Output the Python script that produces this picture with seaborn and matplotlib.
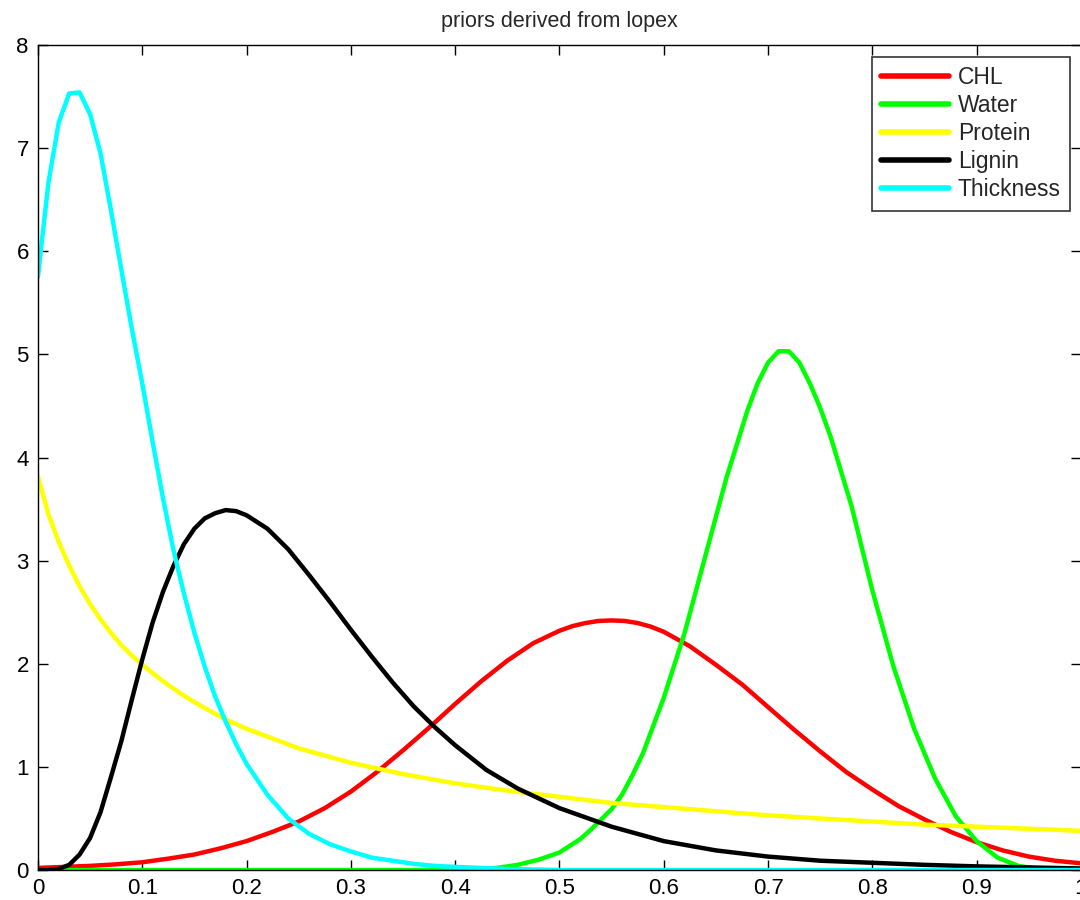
import numpy as np
import pandas as pd
import matplotlib
matplotlib.use("Agg")
import matplotlib.pyplot as plt
import seaborn as sns

# ---- data ----
chl_x = [0.0, 0.025, 0.05, 0.075, 0.1, 0.125, 0.15, 0.175, 0.2, 0.225, 0.25, 0.275, 0.3, 0.325,
         0.35, 0.375, 0.4, 0.425, 0.45, 0.475, 0.5, 0.5125, 0.525, 0.5375, 0.55, 0.5625, 0.575,
         0.5875, 0.6, 0.625, 0.65, 0.675, 0.7, 0.725, 0.75, 0.775, 0.8, 0.825, 0.85, 0.875,
         0.9, 0.925, 0.95, 0.975, 1.0]
chl_y = [0.02, 0.03, 0.04, 0.055, 0.075, 0.11, 0.15, 0.21, 0.28, 0.37, 0.47, 0.6, 0.76, 0.95,
         1.16, 1.38, 1.61, 1.83, 2.03, 2.2, 2.32, 2.365, 2.395, 2.415, 2.42, 2.415, 2.395,
         2.36, 2.31, 2.17, 1.99, 1.8, 1.58, 1.36, 1.15, 0.95, 0.78, 0.62, 0.49, 0.37,
         0.27, 0.19, 0.13, 0.09, 0.065]

water_x = [0.0, 0.1, 0.2, 0.3, 0.4, 0.42, 0.44, 0.46, 0.48, 0.5, 0.52, 0.53, 0.54, 0.55, 0.56,
           0.57, 0.58, 0.59, 0.6, 0.62, 0.64, 0.66, 0.68, 0.69, 0.7, 0.71, 0.72, 0.73, 0.74,
           0.75, 0.76, 0.78, 0.8, 0.82, 0.84, 0.86, 0.88, 0.9, 0.92, 0.94, 0.96, 0.98, 1.0]
water_y = [0.0, 0.0, 0.0, 0.0, 0.0, 0.005, 0.02, 0.05, 0.1, 0.17, 0.3, 0.39, 0.49, 0.59, 0.73,
           0.92, 1.13, 1.4, 1.67, 2.3, 3.05, 3.8, 4.45, 4.72, 4.92, 5.03, 5.03, 4.92, 4.72,
           4.48, 4.2, 3.53, 2.71, 1.98, 1.37, 0.89, 0.52, 0.28, 0.12, 0.04, 0.01, 0.0, 0.0]

protein_x = [0.0, 0.01, 0.02, 0.03, 0.04, 0.05, 0.06, 0.07, 0.08, 0.09, 0.1, 0.12, 0.14, 0.16,
             0.18, 0.2, 0.25, 0.3, 0.35, 0.4, 0.45, 0.5, 0.55, 0.6, 0.65, 0.7, 0.75, 0.8,
             0.85, 0.9, 0.95, 1.0]
protein_y = [3.82, 3.45, 3.18, 2.95, 2.75, 2.58, 2.43, 2.3, 2.18, 2.08, 1.99, 1.83, 1.69, 1.57,
             1.46, 1.37, 1.18, 1.04, 0.93, 0.84, 0.77, 0.71, 0.65, 0.61, 0.57, 0.53, 0.5, 0.47,
             0.44, 0.42, 0.4, 0.38]

lignin_x = [0.0, 0.01, 0.02, 0.03, 0.04, 0.05, 0.06, 0.07, 0.08, 0.09, 0.1, 0.11, 0.12, 0.13,
            0.14, 0.15, 0.16, 0.17, 0.18, 0.19, 0.2, 0.22, 0.24, 0.26, 0.28, 0.3, 0.32, 0.34,
            0.36, 0.38, 0.4, 0.43, 0.46, 0.5, 0.55, 0.6, 0.65, 0.7, 0.75, 0.8, 0.85, 0.9,
            0.95, 1.0]
lignin_y = [0.0, 0.0, 0.01, 0.05, 0.15, 0.31, 0.56, 0.9, 1.25, 1.65, 2.04, 2.4, 2.7, 2.95,
            3.16, 3.31, 3.41, 3.46, 3.49, 3.48, 3.44, 3.31, 3.11, 2.86, 2.6, 2.33, 2.07, 1.82,
            1.59, 1.39, 1.21, 0.97, 0.79, 0.6, 0.42, 0.28, 0.19, 0.13, 0.09, 0.07, 0.05, 0.035,
            0.025, 0.015]

thick_x = [0.0, 0.01, 0.02, 0.03, 0.04, 0.05, 0.06, 0.07, 0.08, 0.09, 0.1, 0.11, 0.12, 0.13,
           0.14, 0.15, 0.16, 0.17, 0.18, 0.19, 0.2, 0.22, 0.24, 0.26, 0.28, 0.3, 0.32, 0.34,
           0.36, 0.38, 0.4, 0.45, 0.5, 0.6, 0.7, 0.8, 0.9, 1.0]
thick_y = [5.75, 6.66, 7.25, 7.53, 7.54, 7.33, 6.95, 6.4, 5.82, 5.25, 4.72, 4.15, 3.6, 3.1,
           2.68, 2.3, 1.97, 1.68, 1.44, 1.22, 1.03, 0.73, 0.5, 0.35, 0.25, 0.18, 0.12, 0.09,
           0.06, 0.04, 0.03, 0.01, 0.0, 0.0, 0.0, 0.0, 0.0, 0.0]

series_names = ["CHL", "Water", "Protein", "Lignin", "Thickness"]
series_colors = ["#ff0000", "#00ff00", "#ffff00", "#000000", "#00ffff"]
x_tick_labels = ["0", "0.1", "0.2", "0.3", "0.4", "0.5", "0.6", "0.7", "0.8", "0.9", "1"]
title_text = "priors derived from lopex"

frames = []
for name, xs, ys in zip(series_names,
                        [chl_x, water_x, protein_x, lignin_x, thick_x],
                        [chl_y, water_y, protein_y, lignin_y, thick_y]):
    frames.append(pd.DataFrame({"x": xs, "y": ys, "series": name}))
df = pd.concat(frames, ignore_index=True)

sns.set_style("white")
plt.rcParams["font.family"] = ["Liberation Sans", "DejaVu Sans"]

fig = plt.figure(figsize=(10.8, 9), dpi=100)
ax = fig.add_axes([37.9 / 1080, 30 / 900, (1081 - 37.9) / 1080, 825 / 900])

sns.lineplot(data=df, x="x", y="y", hue="series", hue_order=series_names,
             palette=dict(zip(series_names, series_colors)), estimator=None,
             sort=True, linewidth=3.2, ax=ax)

ax.set_xlim(0, 1)
ax.set_ylim(0, 8)
ax.set_xticks(np.arange(0, 1.01, 0.1))
ax.set_xticklabels(x_tick_labels)
ax.set_yticks(range(0, 9))
ax.set_xlabel("")
ax.set_ylabel("")
ax.tick_params(direction="in", length=7.2, width=1, colors="black", labelsize=16,
               top=True, right=True, bottom=True, left=True)
ax.tick_params(axis="x", pad=6)
ax.tick_params(axis="y", pad=6.5)
for s in ax.spines.values():
    s.set_color("black")
    s.set_linewidth(1.0)
    s.set_visible(True)
ax.set_title(title_text, fontsize=15.5, pad=13)

leg = ax.legend(loc="upper right", bbox_to_anchor=((1070 - 37.9) / 1043.1, (870 - 57) / 825),
                fontsize=16.5, frameon=True, fancybox=False, handlelength=2.95,
                handletextpad=0.4, borderpad=0.4, labelspacing=0.22, borderaxespad=0)
leg.get_frame().set_edgecolor("black")
leg.get_frame().set_linewidth(1.2)
for line in leg.get_lines():
    line.set_linewidth(4)

fig.savefig("out.png", dpi=100)
